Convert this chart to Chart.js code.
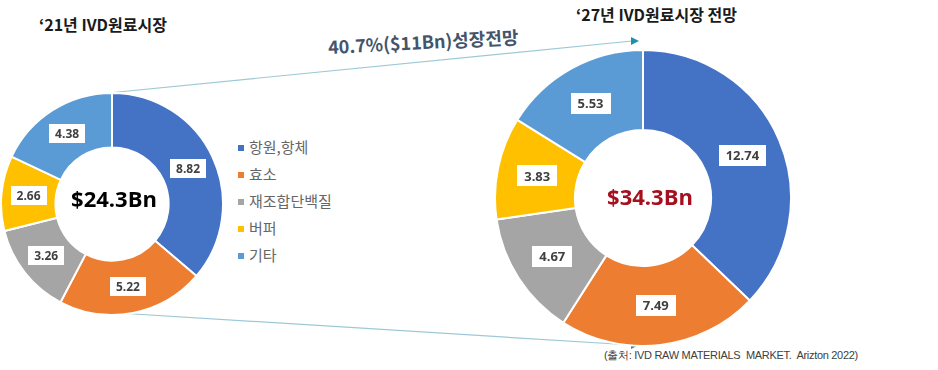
<!DOCTYPE html>
<html>
<head>
<meta charset="utf-8">
<script src="https://cdn.jsdelivr.net/npm/chart.js@4.4.1/dist/chart.umd.min.js"></script>
<style>
  html, body { margin: 0; padding: 0; background: #fff; }
  body { width: 938px; height: 370px; position: relative; overflow: hidden; font-family: "Noto Sans CJK KR", "Noto Sans", sans-serif; }
  .abs { position: absolute; }
  #c1wrap { left: 0px; top: 92px; width: 224px; height: 224px; }
  #c2wrap { left: 494px; top: 49px; width: 298px; height: 298px; }
  .title { font-weight: bold; font-size: 16px; color: #1a1a1a; white-space: nowrap; }
  #t1 { left: 39px; top: 12px; }
  #t2 { left: 576px; top: 2px; }
  #growth { left: 328px; top: 33px; font-size: 18px; font-weight: bold; color: #44546A; transform: rotate(-3deg); transform-origin: left center; white-space: nowrap; }
  #legend { left: 238px; top: 135px; font-size: 15px; color: #666666; }
  #legend div { height: 27px; line-height: 24px; white-space: nowrap; }
  #legend span.sw { display: inline-block; width: 6px; height: 6px; margin-right: 5px; vertical-align: middle; position: relative; top: -1px; }
  #src { left: 604px; top: 348px; font-family: "Liberation Sans", Arial, sans-serif; font-size: 11px; color: #404040; white-space: pre; letter-spacing: -0.3px; }
  svg { position: absolute; left: 0; top: 0; }
</style>
</head>
<body>
<script>
// ---- data ----
const categories = ['항원,항체', '효소', '재조합단백질', '버퍼', '기타'];
const values2021 = [8.82, 5.22, 3.26, 2.66, 4.38];
const values2027 = [12.74, 7.49, 4.67, 3.83, 5.53];
const totals = ['$24.3Bn', '$34.3Bn'];
const titles = ["\u201821년 IVD원료시장", "\u201827년 IVD원료시장 전망"];
const growthText = '40.7%($11Bn)성장전망';
const sourceText = '(출처: IVD RAW MATERIALS  MARKET.  Arizton 2022)';
const colors = ['#4472C4', '#ED7D31', '#A5A5A5', '#FFC000', '#5B9BD5'];
</script>

<svg width="938" height="370">
  <line x1="108" y1="93" x2="632" y2="41" stroke="#9cc9d6" stroke-width="1.2"/>
  <polygon points="631,37 639,41 631,45" fill="#1f8fae"/>
  <line x1="118" y1="313" x2="632" y2="345" stroke="#9cc9d6" stroke-width="1.2"/>
  <polygon points="631,341 639,345 631,349" fill="#1f8fae"/>
</svg>

<div class="abs title" id="t1"></div>
<div class="abs title" id="t2"></div>
<div class="abs" id="growth"></div>
<div class="abs" id="legend"></div>
<div class="abs" id="src"></div>
<div class="abs" id="c1wrap"><canvas id="c1"></canvas></div>
<div class="abs" id="c2wrap"><canvas id="c2"></canvas></div>

<script>
document.getElementById('t1').textContent = titles[0];
document.getElementById('t2').textContent = titles[1];
document.getElementById('growth').textContent = growthText;
document.getElementById('src').textContent = sourceText;
const leg = document.getElementById('legend');
categories.forEach((c, i) => {
  const d = document.createElement('div');
  const s = document.createElement('span');
  s.className = 'sw'; s.style.background = colors[i];
  d.appendChild(s);
  d.appendChild(document.createTextNode(c));
  leg.appendChild(d);
});

const labelPlugin = {
  id: 'boxLabels',
  afterDatasetsDraw(chart, args, opts) {
    const ctx = chart.ctx;
    const meta = chart.getDatasetMeta(0);
    const data = chart.data.datasets[0].data;
    ctx.save();
    ctx.font = 'bold ' + opts.fontSize + 'px "Open Sans", "Noto Sans", sans-serif';
    ctx.textAlign = 'center';
    ctx.textBaseline = 'middle';
    meta.data.forEach((arc, i) => {
      const p = arc.tooltipPosition();
      const txt = data[i].toFixed(2);
      const w = ctx.measureText(txt).width + opts.padX * 2;
      const h = opts.boxH;
      ctx.fillStyle = '#ffffff';
      ctx.fillRect(Math.round(p.x - w / 2), Math.round(p.y - h / 2), Math.round(w), h);
      ctx.fillStyle = '#404040';
      ctx.fillText(txt, p.x, p.y + 1);
    });
    // center text
    const c = meta.data[0];
    ctx.font = 'bold ' + opts.centerSize + 'px "Open Sans", "Noto Sans", sans-serif';
    ctx.fillStyle = opts.centerColor;
    ctx.fillText(opts.centerText, c.x + opts.centerDx, c.y + opts.centerDy);
    ctx.restore();
  }
};

function makeChart(id, values, cutout, lab) {
  return new Chart(document.getElementById(id), {
    type: 'doughnut',
    data: {
      labels: categories,
      datasets: [{ data: values, backgroundColor: colors, borderColor: '#ffffff', borderWidth: 2 }]
    },
    options: {
      responsive: true,
      maintainAspectRatio: false,
      animation: false,
      cutout: cutout,
      layout: { padding: 0 },
      plugins: {
        legend: { display: false },
        tooltip: { enabled: false },
        boxLabels: lab
      }
    },
    plugins: [labelPlugin]
  });
}

makeChart('c1', values2021, '51%', { fontSize: 12, padX: 6, boxH: 19, centerText: totals[0], centerSize: 22, centerColor: '#000000', centerDx: 2, centerDy: -3 });
makeChart('c2', values2027, '46%', { fontSize: 13, padX: 7, boxH: 21, centerText: totals[1], centerSize: 22, centerColor: '#A50F1E', centerDx: 7, centerDy: 1 });
</script>
</body>
</html>
